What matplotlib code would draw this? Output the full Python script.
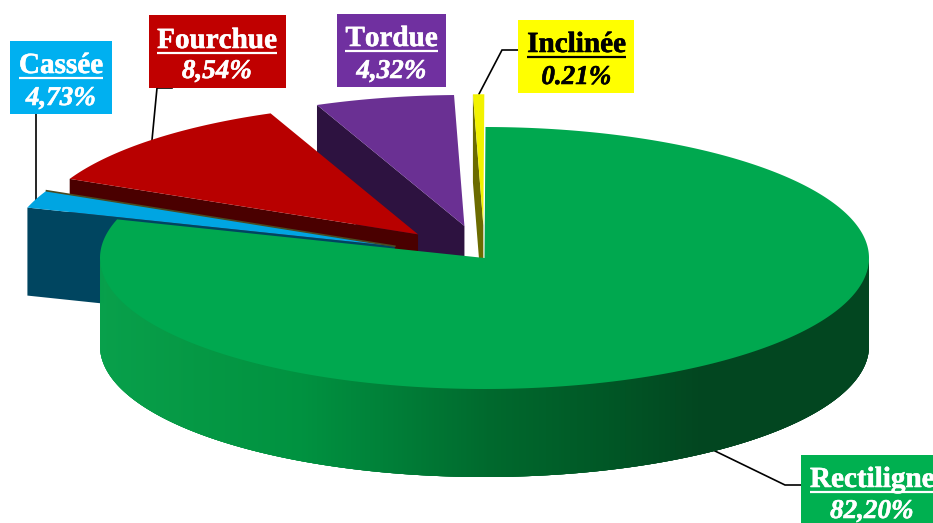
import numpy as np
import matplotlib
matplotlib.use('Agg')
import matplotlib.pyplot as plt
import matplotlib.patheffects as pe
from matplotlib.collections import PolyCollection
from matplotlib.patches import Polygon, Rectangle

plt.rcParams['text.kerning_factor'] = 6

# slices in drawing order, angular sizes (deg), clockwise from 12 o'clock
names = ['Inclinée', 'Tordue', 'Fourchue', 'Cassée', 'Rectiligne']
percents = ['0.21%', '4,32%', '8,54%', '4,73%', '82,20%']
spans = [1.7, 21.0, 42.4, 7.9, 287.0]
explode = [0.25, 0.25, 0.25, 0.25, 0.0]
top_colors = ['#F2F200', '#6A3093', '#B80000', '#00A5E2', '#00A84F']
wall_colors = ['#6B6B00', '#2D1240', '#4A0000', '#004560', '#00A84F']

# label boxes: x0, y0, x1, y1, baselines and leader lines
box_colors = ['#FFFF00', '#7030A0', '#C00000', '#00B0F0', '#00B050']
text_colors = ['black', 'white', 'white', 'white', 'white']
boxes = [(518, 20, 634, 93), (337, 14, 446, 87), (149, 15, 286, 88), (10, 41, 112, 114), (801, 455, 945, 530)]
base1 = [52, 46, 48, 73, 487]
base2 = [84, 78, 78, 105, 518]
text_x = [576.5, 391.5, 217, 61, 872]
leaders = [
    [(518, 50), (502, 50), (479, 94)],
    [],
    [(172, 88), (157, 88), (152, 140)],
    [(36, 114), (36, 200)],
    [(801, 485), (785, 485), (715, 451)],
]

# wall shading along x
grad_x = [100, 200, 300, 400, 490, 600, 700, 869]
grad_r = [8, 5, 0, 0, 0, 0, 2, 2]
grad_g = [160, 152, 146, 125, 105, 88, 70, 70]
grad_b = [75, 68, 64, 55, 45, 38, 32, 32]

cx, cy = 484.5, 258
rx, ry = 384.5, 131
depth = 88
start = 89.85

fig = plt.figure(figsize=(9.33, 5.23), dpi=100)
ax = fig.add_axes([0, 0, 1, 1])
ax.set_xlim(0, 933)
ax.set_ylim(523, 0)
ax.axis('off')


def point(t, ox=0, oy=0):
    t = np.radians(t)
    return cx + ox + rx * np.cos(t), cy + oy - ry * np.sin(t)


# start angles going counter-clockwise on screen from the top
starts = start + np.concatenate([[0], np.cumsum(spans)[:-1]])

for i in range(4):
    a, b = starts[i], starts[i] + spans[i]
    mid = np.radians((a + b) / 2)
    ox = explode[i] * rx * np.cos(mid)
    oy = -explode[i] * ry * np.sin(mid)
    apex = (cx + ox, cy + oy)
    end = point(b, ox, oy)
    # flat cut face towards the viewer
    ax.add_patch(Polygon([end, apex, (apex[0], apex[1] + depth), (end[0], end[1] + depth)],
                         fc=wall_colors[i], ec='none', zorder=2 + i))
    ts = np.linspace(a, b, 40)
    arc = [point(t, ox, oy) for t in ts]
    ax.add_patch(Polygon([apex] + arc, fc=top_colors[i], ec='none', zorder=2 + i))
    if i == 3:
        # thin dark rim on the rear cut of the broken slice
        rear = point(a, ox, oy)
        ax.plot([rear[0], apex[0]], [rear[1], apex[1]], color='#4A4A20', lw=1.2, zorder=2 + i)

# big slice: wall then top, strips overlap so no seams show
ts = np.arange(180, 360, 0.25)
quads = []
cols = []
for t in ts:
    x0, y0 = point(t)
    x1, y1 = point(min(t + 1.0, 360))
    quads.append([(x0, y0 - 1), (x1, y1 - 1), (x1, y1 + depth), (x0, y0 + depth)])
    cols.append((np.interp(x0, grad_x, grad_r) / 255, np.interp(x0, grad_x, grad_g) / 255,
                 np.interp(x0, grad_x, grad_b) / 255))
ax.add_collection(PolyCollection(quads, facecolors=cols, edgecolors='none', zorder=7))

a = starts[4]
arc = [point(t) for t in np.linspace(a, a + spans[4], 500)]
ax.add_patch(Polygon([(cx, cy)] + arc, fc=top_colors[4], ec='none', zorder=8))

# leaders and labels
fig.canvas.draw()
rend = fig.canvas.get_renderer()
for i in range(5):
    if leaders[i]:
        ax.plot([p[0] for p in leaders[i]], [p[1] for p in leaders[i]], color='black', lw=1.2, zorder=1,
                solid_joinstyle='miter')
    x0, y0, x1, y1 = boxes[i]
    ax.add_patch(Rectangle((x0, y0), x1 - x0, y1 - y0, fc=box_colors[i], ec='none', zorder=10))
    stroke = [pe.withStroke(linewidth=0.4, foreground=text_colors[i])]
    t = ax.text(text_x[i], base1[i], names[i], family='Liberation Serif', weight='bold', fontsize=21,
                color=text_colors[i], ha='center', va='baseline', zorder=11, path_effects=stroke)
    ax.text(text_x[i], base2[i], percents[i], family='Liberation Serif', weight='bold', style='italic',
            fontsize=19.5, color=text_colors[i], ha='center', va='baseline', zorder=11, path_effects=stroke)
    bb = t.get_window_extent(rend)
    ax.plot([bb.x0, bb.x1], [base1[i] + 4.5, base1[i] + 4.5], color=text_colors[i], lw=1.6, zorder=11,
            solid_capstyle='butt')

fig.savefig('out.png', dpi=100, facecolor='white')
